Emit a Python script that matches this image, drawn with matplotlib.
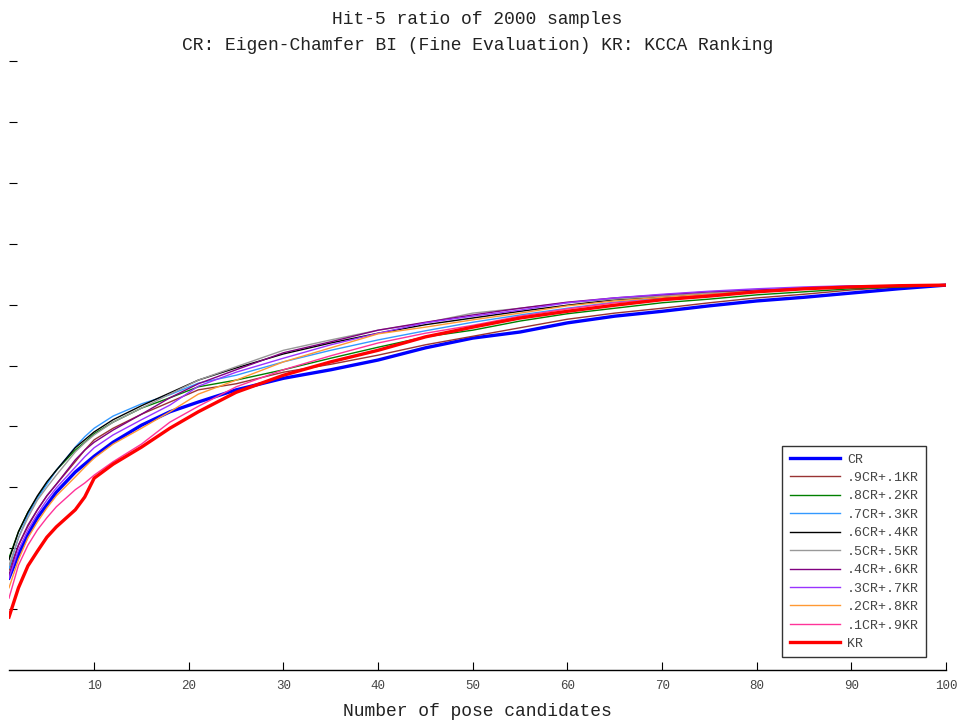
import matplotlib
matplotlib.use("Agg")
import matplotlib.pyplot as plt

# pose candidate counts where the curves were read
X = [1, 2, 3, 4, 5, 6, 8, 9, 10, 12, 15, 18, 21, 25, 30, 35, 40, 45, 50,
     55, 60, 65, 70, 75, 80, 85, 90, 95, 100]

CR = [0.151, 0.189, 0.222, 0.250, 0.271, 0.292, 0.325, 0.338, 0.351, 0.374,
      0.402, 0.424, 0.440, 0.460, 0.479, 0.493, 0.509, 0.529, 0.545, 0.555,
      0.570, 0.581, 0.589, 0.598, 0.606, 0.612, 0.619, 0.626, 0.632]
CR9 = [0.164, 0.205, 0.236, 0.263, 0.286, 0.305, 0.342, 0.361, 0.378, 0.397,
       0.420, 0.440, 0.460, 0.470, 0.489, 0.502, 0.517, 0.534, 0.548, 0.562,
       0.576, 0.586, 0.594, 0.603, 0.611, 0.617, 0.624, 0.629, 0.632]
CR8 = [0.184, 0.227, 0.259, 0.284, 0.307, 0.328, 0.361, 0.374, 0.388, 0.407,
       0.430, 0.447, 0.465, 0.476, 0.493, 0.512, 0.530, 0.547, 0.558, 0.573,
       0.585, 0.594, 0.603, 0.609, 0.616, 0.621, 0.626, 0.629, 0.632]
CR7 = [0.167, 0.217, 0.255, 0.282, 0.305, 0.328, 0.366, 0.383, 0.397, 0.417,
       0.437, 0.452, 0.471, 0.484, 0.506, 0.525, 0.542, 0.557, 0.571, 0.583,
       0.594, 0.604, 0.611, 0.616, 0.621, 0.626, 0.629, 0.631, 0.632]
CR6 = [0.181, 0.227, 0.259, 0.286, 0.309, 0.328, 0.365, 0.378, 0.391, 0.411,
       0.434, 0.455, 0.476, 0.496, 0.519, 0.537, 0.553, 0.567, 0.578, 0.589,
       0.599, 0.608, 0.612, 0.617, 0.622, 0.626, 0.629, 0.631, 0.632]
CR5 = [0.172, 0.217, 0.250, 0.279, 0.300, 0.320, 0.358, 0.373, 0.386, 0.407,
       0.430, 0.453, 0.476, 0.498, 0.525, 0.542, 0.558, 0.570, 0.586, 0.594,
       0.603, 0.609, 0.614, 0.619, 0.624, 0.627, 0.629, 0.631, 0.632]
CR4 = [0.156, 0.205, 0.238, 0.263, 0.286, 0.305, 0.345, 0.361, 0.374, 0.394,
       0.420, 0.447, 0.470, 0.493, 0.521, 0.539, 0.558, 0.571, 0.583, 0.594,
       0.604, 0.611, 0.616, 0.621, 0.624, 0.627, 0.630, 0.631, 0.632]
CR3 = [0.151, 0.197, 0.230, 0.256, 0.279, 0.299, 0.333, 0.350, 0.365, 0.386,
       0.411, 0.435, 0.466, 0.489, 0.512, 0.534, 0.553, 0.570, 0.581, 0.591,
       0.603, 0.611, 0.617, 0.622, 0.626, 0.629, 0.631, 0.631, 0.632]
CR2 = [0.135, 0.181, 0.217, 0.243, 0.266, 0.286, 0.317, 0.333, 0.348, 0.371,
       0.397, 0.424, 0.453, 0.476, 0.506, 0.529, 0.552, 0.563, 0.575, 0.586,
       0.598, 0.606, 0.612, 0.617, 0.622, 0.626, 0.629, 0.631, 0.632]
CR1 = [0.118, 0.172, 0.205, 0.230, 0.250, 0.268, 0.296, 0.307, 0.320, 0.342,
       0.371, 0.407, 0.433, 0.465, 0.493, 0.516, 0.537, 0.553, 0.566, 0.581,
       0.593, 0.603, 0.609, 0.616, 0.621, 0.626, 0.629, 0.631, 0.632]
KR = [0.087, 0.135, 0.171, 0.195, 0.218, 0.235, 0.263, 0.284, 0.315, 0.338,
      0.366, 0.397, 0.424, 0.456, 0.484, 0.506, 0.525, 0.547, 0.563, 0.578,
      0.589, 0.599, 0.608, 0.614, 0.621, 0.626, 0.629, 0.631, 0.632]

SERIES = [CR, CR9, CR8, CR7, CR6, CR5, CR4, CR3, CR2, CR1, KR]
LABELS = ["CR", ".9CR+.1KR", ".8CR+.2KR", ".7CR+.3KR", ".6CR+.4KR",
          ".5CR+.5KR", ".4CR+.6KR", ".3CR+.7KR", ".2CR+.8KR", ".1CR+.9KR", "KR"]
COLORS = ["#0000ff", "#993333", "#008000", "#3399ff", "#000000", "#999999",
          "#800080", "#9933ff", "#ff9933", "#ff3399", "#ff0000"]
XTICKS = [10, 20, 30, 40, 50, 60, 70, 80, 90, 100]
YTICKS = [0.1, 0.2, 0.3, 0.4, 0.5, 0.6, 0.7, 0.8, 0.9, 1.0]

MONO = "Liberation Mono"

fig = plt.figure(figsize=(9.6, 7.22), dpi=100)
ax = fig.add_axes([9 / 960, 52 / 722, 937 / 960, 609 / 722])

for ys, lab, col in zip(SERIES, LABELS, COLORS):
    lw = 2.4 if lab in ("CR", "KR") else 1.0
    ax.plot(X, ys, color=col, lw=lw, label=lab)

ax.set_xlim(1, 100)
ax.set_ylim(0, 1)
ax.set_xticks(XTICKS)
ax.set_yticks(YTICKS)
ax.set_yticklabels([])
ax.tick_params(axis="both", direction="in", length=6, width=0.8, color="black")
ax.tick_params(axis="x", labelsize=9, labelcolor="#444444", pad=7)
for lbl in ax.get_xticklabels():
    lbl.set_family(MONO)

for side in ("top", "right", "left"):
    ax.spines[side].set_visible(False)
ax.spines["bottom"].set_linewidth(1.0)

ax.set_xlabel("Number of pose candidates", fontsize=13, family=MONO,
              color="#222222", labelpad=8)
ax.set_title("Hit-5 ratio of 2000 samples\n"
             "CR: Eigen-Chamfer BI (Fine Evaluation) KR: KCCA Ranking",
             fontsize=13, family=MONO, color="#222222", pad=8, linespacing=1.7)

leg = ax.legend(loc="lower right", bbox_to_anchor=(0.979, 0.021),
                prop={"family": MONO, "size": 9.5}, frameon=True,
                fancybox=False, handlelength=3.8, handletextpad=0.55,
                labelspacing=0.47, borderpad=0.55, borderaxespad=0)
leg.get_frame().set_edgecolor("black")
leg.get_frame().set_linewidth(1.0)
for t in leg.get_texts():
    t.set_color("#444444")

fig.savefig("out.png", dpi=100)
